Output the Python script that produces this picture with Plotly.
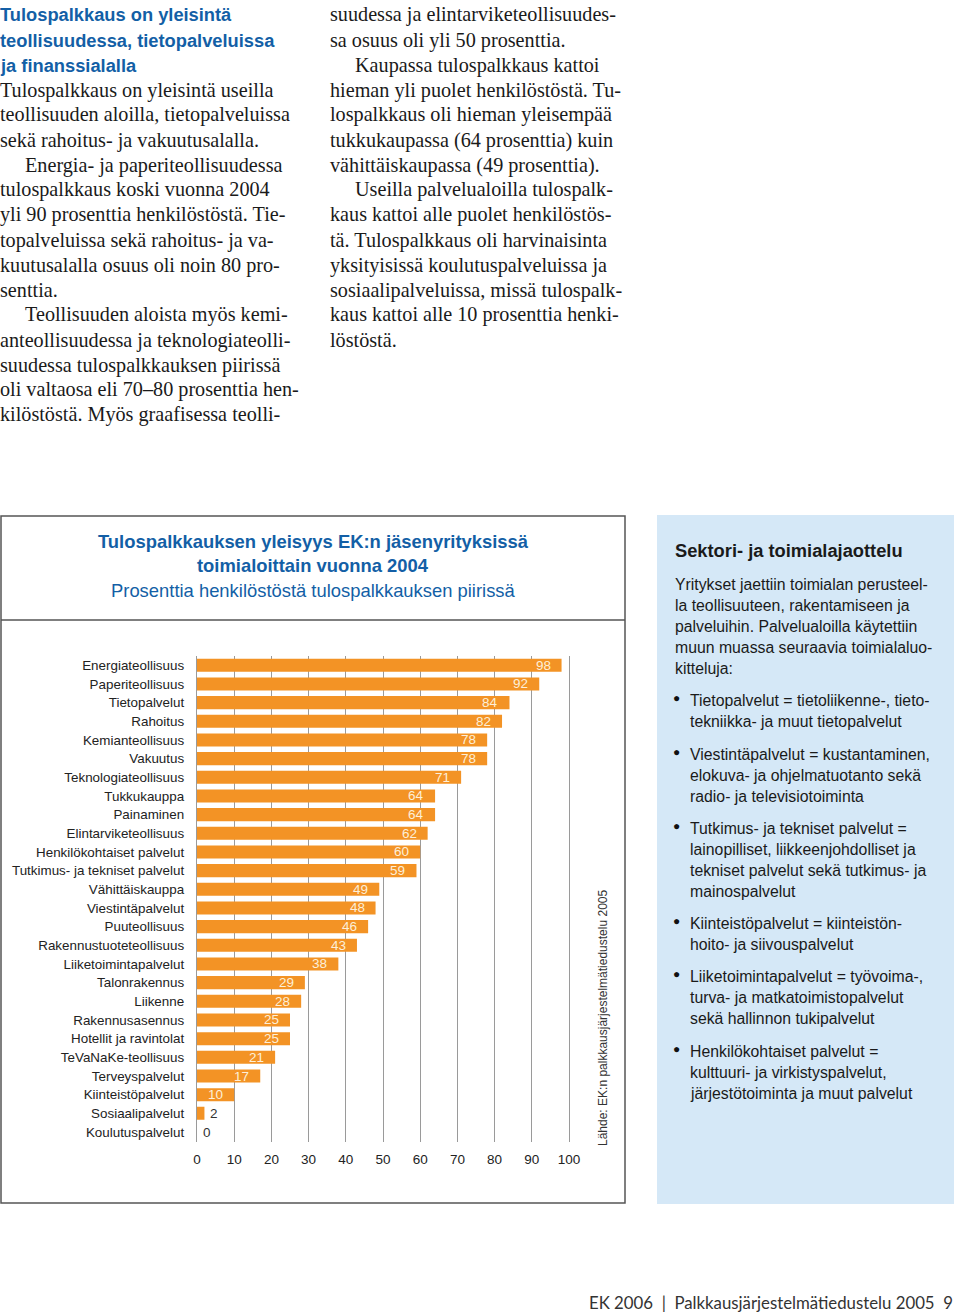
import plotly.graph_objects as go

W, H = 960, 1314

categories = [
    "Energiateollisuus", "Paperiteollisuus", "Tietopalvelut", "Rahoitus",
    "Kemianteollisuus", "Vakuutus", "Teknologiateollisuus", "Tukkukauppa",
    "Painaminen", "Elintarviketeollisuus", "Henkilökohtaiset palvelut",
    "Tutkimus- ja tekniset palvelut", "Vähittäiskauppa", "Viestintäpalvelut",
    "Puuteollisuus", "Rakennustuoteteollisuus", "Liiketoimintapalvelut",
    "Talonrakennus", "Liikenne", "Rakennusasennus", "Hotellit ja ravintolat",
    "TeVaNaKe-teollisuus", "Terveyspalvelut", "Kiinteistöpalvelut",
    "Sosiaalipalvelut", "Koulutuspalvelut",
]
values = [98, 92, 84, 82, 78, 78, 71, 64, 64, 62, 60, 59, 49, 48, 46, 43, 38,
          29, 28, 25, 25, 21, 17, 10, 2, 0]
x_ticks = [0, 10, 20, 30, 40, 50, 60, 70, 80, 90, 100]

title_lines = ["Tulospalkkauksen yleisyys EK:n jäsenyrityksissä",
               "toimialoittain vuonna 2004"]
subtitle = "Prosenttia henkilöstöstä tulospalkkauksen piirissä"
source = "Lähde: EK:n palkkausjärjestelmätiedustelu 2005"

heading_lines = ["Tulospalkkaus on yleisintä", "teollisuudessa, tietopalveluissa",
                 "ja finanssialalla"]
left_col = [
    ("Tulospalkkaus on yleisintä useilla", 0),
    ("teollisuuden aloilla, tietopalveluissa", 0),
    ("sekä rahoitus- ja vakuutusalalla.", 0),
    ("Energia- ja paperiteollisuudessa", 1),
    ("tulospalkkaus koski vuonna 2004", 0),
    ("yli 90 prosenttia henkilöstöstä. Tie-", 0),
    ("topalveluissa sekä rahoitus- ja va-", 0),
    ("kuutusalalla osuus oli noin 80 pro-", 0),
    ("senttia.", 0),
    ("Teollisuuden aloista myös kemi-", 1),
    ("anteollisuudessa ja teknologiateolli-", 0),
    ("suudessa tulospalkkauksen piirissä", 0),
    ("oli valtaosa eli 70–80 prosenttia hen-", 0),
    ("kilöstöstä. Myös graafisessa teolli-", 0),
]
right_col = [
    ("suudessa ja elintarviketeollisuudes-", 0),
    ("sa osuus oli yli 50 prosenttia.", 0),
    ("Kaupassa tulospalkkaus kattoi", 1),
    ("hieman yli puolet henkilöstöstä. Tu-", 0),
    ("lospalkkaus oli hieman yleisempää", 0),
    ("tukkukaupassa (64 prosenttia) kuin", 0),
    ("vähittäiskaupassa (49 prosenttia).", 0),
    ("Useilla palvelualoilla tulospalk-", 1),
    ("kaus kattoi alle puolet henkilöstös-", 0),
    ("tä. Tulospalkkaus oli harvinaisinta", 0),
    ("yksityisissä koulutuspalveluissa ja", 0),
    ("sosiaalipalveluissa, missä tulospalk-", 0),
    ("kaus kattoi alle 10 prosenttia henki-", 0),
    ("löstöstä.", 0),
]

box_title = "Sektori- ja toimialajaottelu"
box_intro = ["Yritykset jaettiin toimialan perusteel-",
             "la teollisuuteen, rakentamiseen ja",
             "palveluihin. Palvelualoilla käytettiin",
             "muun muassa seuraavia toimialaluo-",
             "kitteluja:"]
box_bullets = [
    ["Tietopalvelut = tietoliikenne-, tieto-", "tekniikka- ja muut tietopalvelut"],
    ["Viestintäpalvelut = kustantaminen,", "elokuva- ja ohjelmatuotanto sekä",
     "radio- ja televisiotoiminta"],
    ["Tutkimus- ja tekniset palvelut =", "lainopilliset, liikkeenjohdolliset ja",
     "tekniset palvelut sekä tutkimus- ja", "mainospalvelut"],
    ["Kiinteistöpalvelut = kiinteistön-", "hoito- ja siivouspalvelut"],
    ["Liiketoimintapalvelut = työvoima-,", "turva- ja matkatoimistopalvelut",
     "sekä hallinnon tukipalvelut"],
    ["Henkilökohtaiset palvelut =", "kulttuuri- ja virkistyspalvelut,",
     "järjestötoiminta ja muut palvelut"],
]
footer = "EK 2006  |  Palkkausjärjestelmätiedustelu 2005  9"

ORANGE = "#F39325"
BLUE = "#135FA6"
SERIF = "Liberation Serif, Times New Roman, serif"
SANS = "Liberation Sans, Arial, sans-serif"


def px(x):
    return x / W


def py(y):
    return 1 - y / H


fig = go.Figure()
fig.add_trace(go.Bar(
    x=values, y=categories, orientation="h",
    marker=dict(color=ORANGE, line=dict(width=0)),
    width=0.7, hoverinfo="x+y",
))

annotations = []
# value labels
for c, v in zip(categories, values):
    if v >= 10:
        annotations.append(dict(x=v, y=c, xref="x", yref="y", text=str(v),
                                showarrow=False, xanchor="right", xshift=-9,
                                font=dict(family=SANS, size=13.5, color="#FDEFD8")))
    else:
        annotations.append(dict(x=v, y=c, xref="x", yref="y", text=str(v),
                                showarrow=False, xanchor="left", xshift=4,
                                font=dict(family=SANS, size=13.5, color="#333333")))


def txt(x, y, s, size, color="#1a1a1a", family=SERIF, anchor="left", bold=False, angle=0):
    if bold:
        s = "<b>" + s + "</b>"
    annotations.append(dict(x=px(x), y=py(y), xref="paper", yref="paper", text=s,
                            showarrow=False, xanchor=anchor, yanchor="middle",
                            textangle=angle,
                            font=dict(family=family, size=size, color=color)))


# top heading and columns
for i, s in enumerate(heading_lines):
    txt(-2, 15 + 25 * i, s, 18.3, BLUE, SANS, bold=True)
for i, (s, ind) in enumerate(left_col):
    txt(-2 + 25 * ind, 90 + 25 * i, s, 20.2)
for i, (s, ind) in enumerate(right_col):
    txt(328 + 25 * ind, 15 + 25 * i, s, 20.2)

# chart titles
txt(313, 541, title_lines[0], 18.4, BLUE, SANS, anchor="center", bold=True)
txt(313, 566, title_lines[1], 18.4, BLUE, SANS, anchor="center", bold=True)
txt(313, 591, subtitle, 18.4, BLUE, SANS, anchor="center")
txt(603, 1018, source, 12, "#333333", SANS, anchor="center", angle=-90)

# side box
txt(673, 551, box_title, 18.3, "#1a1a1a", SANS, bold=True)
for i, s in enumerate(box_intro):
    txt(673, 584 + 21.2 * i, s, 15.8, "#1a1a1a", SANS)
bullet_starts = [700, 754, 828, 923, 976, 1051]
for start, lines in zip(bullet_starts, box_bullets):
    txt(671, start - 2, "●", 12, "#111111", SANS)
    for j, s in enumerate(lines):
        txt(688, start + 21.2 * j, s, 15.8, "#1a1a1a", SANS)

txt(955, 1302, footer, 16.8, "#333333", "Lato, Open Sans, sans-serif", anchor="right")

shapes = [
    # side box background
    dict(type="rect", xref="paper", yref="paper", x0=px(657), x1=px(954),
         y0=py(1204), y1=py(515), fillcolor="#D5E8F7", line=dict(width=0), layer="below"),
    # chart frame
    dict(type="rect", xref="paper", yref="paper", x0=px(1), x1=px(625),
         y0=py(1203), y1=py(516), line=dict(color="#555555", width=1.5)),
    dict(type="line", xref="paper", yref="paper", x0=px(1), x1=px(625),
         y0=py(620), y1=py(620), line=dict(color="#555555", width=1.5)),
]

x0_px, unit = 197, 3.72
xmax = 101
fig.update_layout(
    width=W, height=H,
    margin=dict(l=0, r=0, t=0, b=0, autoexpand=False),
    paper_bgcolor="white", plot_bgcolor="white",
    showlegend=False,
    annotations=annotations,
    shapes=shapes,
    bargap=0.3,
    xaxis=dict(
        domain=[px(x0_px), px(x0_px + unit * xmax)],
        range=[0, xmax], tickvals=x_ticks, ticktext=[str(t) for t in x_ticks],
        showgrid=True, gridcolor="#9a9a9a", gridwidth=1.3,
        zeroline=False, showline=False, automargin=False,
        ticks="outside", ticklen=5, tickcolor="rgba(0,0,0,0)",
        tickfont=dict(family=SANS, size=13.5, color="#222222"),
        fixedrange=True,
    ),
    yaxis=dict(
        domain=[py(1141.5), py(655.8)],
        categoryorder="array", categoryarray=categories,
        autorange="reversed", automargin=False,
        showgrid=False, zeroline=False,
        showline=True, linecolor="#9a9a9a", linewidth=1.3,
        ticks="outside", ticklen=9, tickcolor="rgba(0,0,0,0)",
        tickfont=dict(family=SANS, size=13.4, color="#222222"),
        fixedrange=True,
    ),
)

fig.write_html("out.html", config={"displayModeBar": False},
               post_script="document.body.style.margin='0';document.body.style.overflow='hidden';")
